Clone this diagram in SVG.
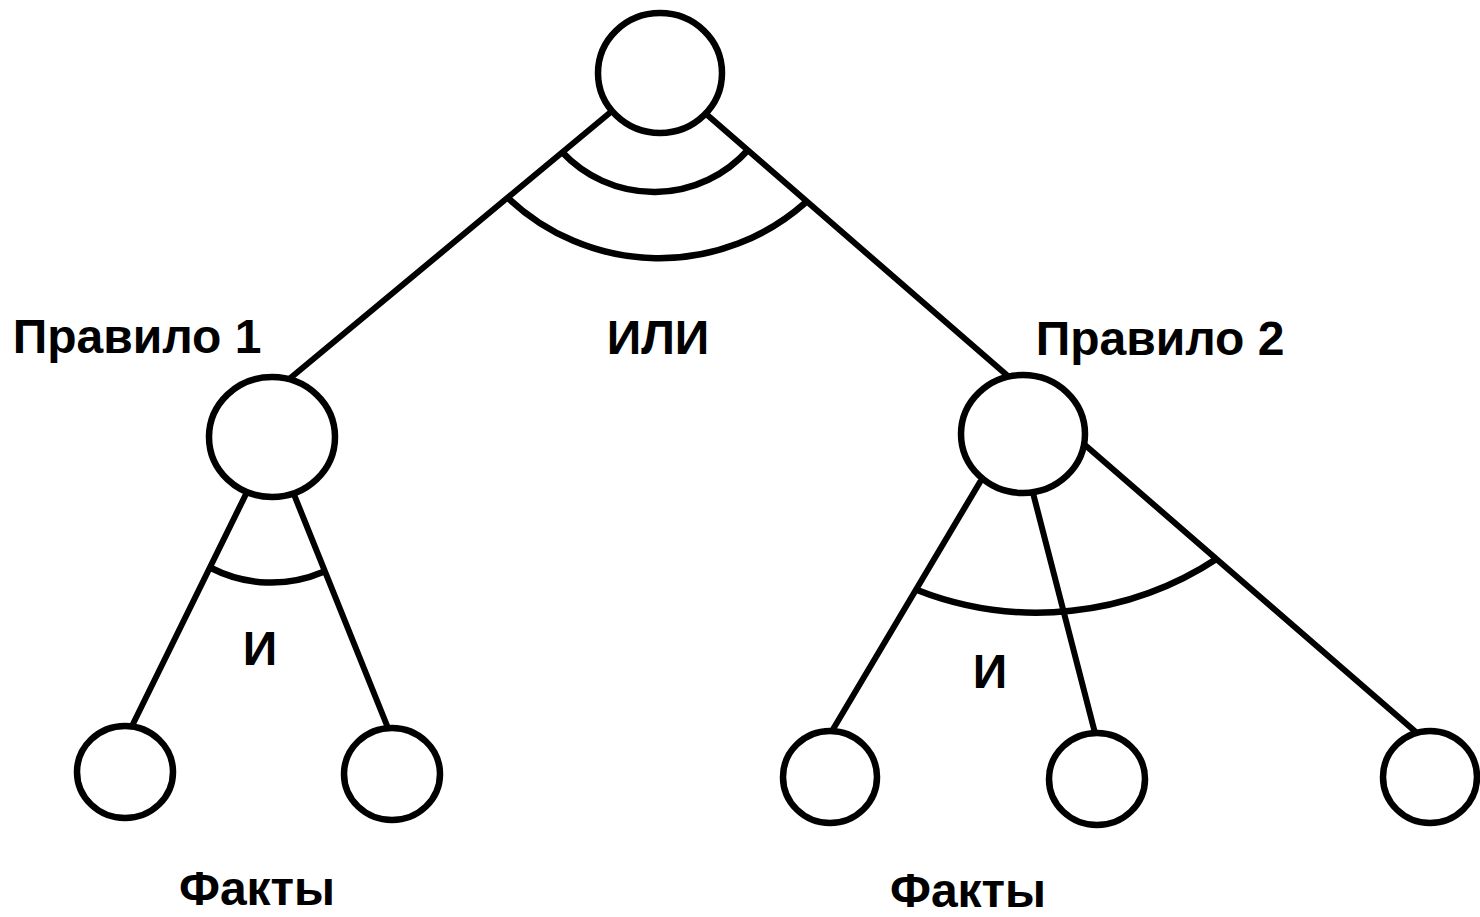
<svg xmlns="http://www.w3.org/2000/svg" width="1480" height="917" viewBox="0 0 1480 917">
  <style>
    .node { fill: #ffffff; stroke: #000000; stroke-width: 6.5; }
    .edge { fill: none; stroke: #000000; stroke-width: 6; stroke-linecap: round; }
    .arc { fill: none; stroke: #000000; stroke-width: 6.5; }
    .lbl { font-family: "Liberation Sans", Arial, sans-serif; font-weight: bold; font-size: 48px; fill: #000000; text-anchor: middle; }
  </style>
  <rect width="1480" height="917" fill="#ffffff"/>

  <!-- connectors and AND/OR arcs -->
  <g id="connectors">
    <line class="edge" x1="612" y1="111" x2="288" y2="380"/>
    <line class="edge" x1="705" y1="113" x2="1009" y2="377"/>
    <line class="edge" x1="247" y1="492" x2="132" y2="726"/>
    <line class="edge" x1="293" y1="492" x2="388" y2="728"/>
    <line class="edge" x1="980" y1="482" x2="832" y2="731"/>
    <line class="edge" x1="1033" y1="493" x2="1095" y2="733"/>
    <line class="edge" x1="1085" y1="445" x2="1417" y2="733"/>
    <!-- OR arcs at the root -->
    <path class="arc" d="M 562 152 A 126 126 0 0 0 748 150"/>
    <path class="arc" d="M 508 198 A 220 220 0 0 0 805 203"/>
    <!-- AND arc, rule 1 -->
    <path class="arc" d="M 211 568 A 132 132 0 0 0 323 572"/>
    <!-- AND arc, rule 2 -->
    <path class="arc" d="M 917 590 A 328 328 0 0 0 1218 558"/>
  </g>

  <g id="root"><ellipse class="node" cx="660" cy="73" rx="62" ry="60"/></g>
  <g id="rule1"><ellipse class="node" cx="272" cy="437" rx="63" ry="60"/></g>
  <g id="rule2"><ellipse class="node" cx="1023" cy="434" rx="62" ry="59"/></g>
  <g id="fact1"><ellipse class="node" cx="125" cy="772" rx="48" ry="46"/></g>
  <g id="fact2"><ellipse class="node" cx="392" cy="774" rx="48" ry="46"/></g>
  <g id="fact3"><ellipse class="node" cx="830" cy="777" rx="47" ry="46"/></g>
  <g id="fact4"><ellipse class="node" cx="1097" cy="779" rx="48" ry="46"/></g>
  <g id="fact5"><ellipse class="node" cx="1430" cy="777" rx="47" ry="46"/></g>

  <g id="labels">
    <text class="lbl" x="137" y="353">Правило 1</text>
    <text class="lbl" x="658" y="354">ИЛИ</text>
    <text class="lbl" x="1160" y="355">Правило 2</text>
    <text class="lbl" x="260" y="665">И</text>
    <text class="lbl" x="990" y="688">И</text>
    <text class="lbl" x="257" y="905">Факты</text>
    <text class="lbl" x="968" y="907">Факты</text>
  </g>
</svg>
